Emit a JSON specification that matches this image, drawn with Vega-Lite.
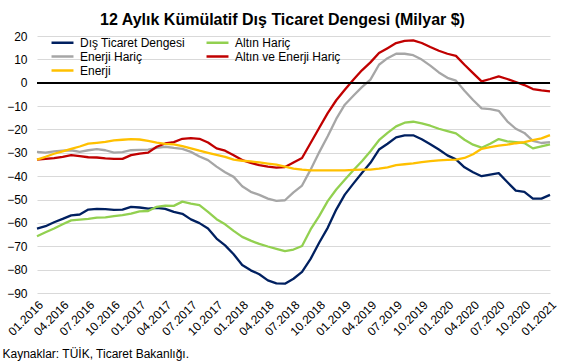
{
  "$schema": "https://vega.github.io/schema/vega-lite/v6.json",
  "width": 513,
  "height": 257,
  "autosize": {"type": "none"},
  "padding": {"left": 37, "top": 36, "right": 24, "bottom": 69},
  "background": "white",
  "title": {
    "text": "12 Aylık Kümülatif Dış Ticaret Dengesi (Milyar $)",
    "font": "Liberation Sans",
    "fontSize": 16,
    "fontWeight": "bold",
    "color": "#000000",
    "anchor": "middle",
    "dx": -11,
    "offset": 2
  },
  "config": {
    "view": {"stroke": null},
    "font": "Liberation Sans",
    "axisY": {"labelOverlap": false},
    "axisX": {"labelOverlap": false}
  },
  "data": {
    "values": [
      {"ay": "01.2016", "Dış Ticaret Dengesi": -62.4, "Altın Hariç": -65.7, "Enerji Hariç": -29.6, "Altın ve Enerji Hariç": -32.9, "Enerji": -32.9},
      {"ay": "02.2016", "Dış Ticaret Dengesi": -61.4, "Altın Hariç": -64.0, "Enerji Hariç": -29.9, "Altın ve Enerji Hariç": -32.6, "Enerji": -31.7},
      {"ay": "03.2016", "Dış Ticaret Dengesi": -59.7, "Altın Hariç": -62.4, "Enerji Hariç": -29.4, "Altın ve Enerji Hariç": -32.3, "Enerji": -30.4},
      {"ay": "04.2016", "Dış Ticaret Dengesi": -58.3, "Altın Hariç": -60.6, "Enerji Hariç": -29.1, "Altın ve Enerji Hariç": -31.7, "Enerji": -29.4},
      {"ay": "05.2016", "Dış Ticaret Dengesi": -56.8, "Altın Hariç": -58.9, "Enerji Hariç": -28.9, "Altın ve Enerji Hariç": -31.0, "Enerji": -28.3},
      {"ay": "06.2016", "Dış Ticaret Dengesi": -56.4, "Altın Hariç": -58.6, "Enerji Hariç": -29.6, "Altın ve Enerji Hariç": -31.4, "Enerji": -27.3},
      {"ay": "07.2016", "Dış Ticaret Dengesi": -54.3, "Altın Hariç": -58.3, "Enerji Hariç": -28.9, "Altın ve Enerji Hariç": -31.9, "Enerji": -26.1},
      {"ay": "08.2016", "Dış Ticaret Dengesi": -54.0, "Altın Hariç": -57.7, "Enerji Hariç": -28.4, "Altın ve Enerji Hariç": -32.0, "Enerji": -25.7},
      {"ay": "09.2016", "Dış Ticaret Dengesi": -54.1, "Altın Hariç": -57.6, "Enerji Hariç": -28.9, "Altın ve Enerji Hariç": -32.4, "Enerji": -25.3},
      {"ay": "10.2016", "Dış Ticaret Dengesi": -54.4, "Altın Hariç": -57.1, "Enerji Hariç": -29.9, "Altın ve Enerji Hariç": -32.6, "Enerji": -24.7},
      {"ay": "11.2016", "Dış Ticaret Dengesi": -54.3, "Altın Hariç": -56.7, "Enerji Hariç": -29.7, "Altın ve Enerji Hariç": -32.6, "Enerji": -24.4},
      {"ay": "12.2016", "Dış Ticaret Dengesi": -53.1, "Altın Hariç": -56.0, "Enerji Hariç": -28.9, "Altın ve Enerji Hariç": -31.0, "Enerji": -24.1},
      {"ay": "01.2017", "Dış Ticaret Dengesi": -53.4, "Altın Hariç": -55.1, "Enerji Hariç": -28.7, "Altın ve Enerji Hariç": -30.3, "Enerji": -24.3},
      {"ay": "02.2017", "Dış Ticaret Dengesi": -53.9, "Altın Hariç": -54.9, "Enerji Hariç": -28.6, "Altın ve Enerji Hariç": -29.9, "Enerji": -24.9},
      {"ay": "03.2017", "Dış Ticaret Dengesi": -53.6, "Altın Hariç": -53.1, "Enerji Hariç": -27.9, "Altın ve Enerji Hariç": -27.4, "Enerji": -25.6},
      {"ay": "04.2017", "Dış Ticaret Dengesi": -54.0, "Altın Hariç": -52.6, "Enerji Hariç": -27.4, "Altın ve Enerji Hariç": -26.0, "Enerji": -26.2},
      {"ay": "05.2017", "Dış Ticaret Dengesi": -55.3, "Altın Hariç": -52.7, "Enerji Hariç": -27.9, "Altın ve Enerji Hariç": -25.4, "Enerji": -26.4},
      {"ay": "06.2017", "Dış Ticaret Dengesi": -56.1, "Altın Hariç": -50.9, "Enerji Hariç": -28.3, "Altın ve Enerji Hariç": -24.0, "Enerji": -27.1},
      {"ay": "07.2017", "Dış Ticaret Dengesi": -58.5, "Altın Hariç": -51.7, "Enerji Hariç": -29.6, "Altın ve Enerji Hariç": -23.7, "Enerji": -28.1},
      {"ay": "08.2017", "Dış Ticaret Dengesi": -60.1, "Altın Hariç": -52.4, "Enerji Hariç": -31.6, "Altın ve Enerji Hariç": -24.0, "Enerji": -29.1},
      {"ay": "09.2017", "Dış Ticaret Dengesi": -62.4, "Altın Hariç": -55.3, "Enerji Hariç": -33.1, "Altın ve Enerji Hariç": -25.6, "Enerji": -30.0},
      {"ay": "10.2017", "Dış Ticaret Dengesi": -66.7, "Altın Hariç": -58.4, "Enerji Hariç": -35.9, "Altın ve Enerji Hariç": -28.1, "Enerji": -30.9},
      {"ay": "11.2017", "Dış Ticaret Dengesi": -69.6, "Altın Hariç": -60.6, "Enerji Hariç": -38.3, "Altın ve Enerji Hariç": -29.1, "Enerji": -31.7},
      {"ay": "12.2017", "Dış Ticaret Dengesi": -73.4, "Altın Hariç": -63.4, "Enerji Hariç": -40.3, "Altın ve Enerji Hariç": -31.0, "Enerji": -32.9},
      {"ay": "01.2018", "Dış Ticaret Dengesi": -78.0, "Altın Hariç": -66.0, "Enerji Hariç": -44.3, "Altın ve Enerji Hariç": -33.1, "Enerji": -33.4},
      {"ay": "02.2018", "Dış Ticaret Dengesi": -80.3, "Altın Hariç": -67.6, "Enerji Hariç": -46.7, "Altın ve Enerji Hariç": -34.3, "Enerji": -33.7},
      {"ay": "03.2018", "Dış Ticaret Dengesi": -82.0, "Altın Hariç": -69.0, "Enerji Hariç": -48.0, "Altın ve Enerji Hariç": -35.3, "Enerji": -34.1},
      {"ay": "04.2018", "Dış Ticaret Dengesi": -84.6, "Altın Hariç": -70.1, "Enerji Hariç": -49.6, "Altın ve Enerji Hariç": -35.9, "Enerji": -34.6},
      {"ay": "05.2018", "Dış Ticaret Dengesi": -85.9, "Altın Hariç": -71.1, "Enerji Hariç": -50.6, "Altın ve Enerji Hariç": -36.3, "Enerji": -35.1},
      {"ay": "06.2018", "Dış Ticaret Dengesi": -86.0, "Altın Hariç": -72.1, "Enerji Hariç": -50.3, "Altın ve Enerji Hariç": -36.1, "Enerji": -35.9},
      {"ay": "07.2018", "Dış Ticaret Dengesi": -83.9, "Altın Hariç": -71.4, "Enerji Hariç": -46.9, "Altın ve Enerji Hariç": -34.1, "Enerji": -36.8},
      {"ay": "08.2018", "Dış Ticaret Dengesi": -81.0, "Altın Hariç": -69.9, "Enerji Hariç": -44.0, "Altın ve Enerji Hariç": -32.2, "Enerji": -37.2},
      {"ay": "09.2018", "Dış Ticaret Dengesi": -75.4, "Altın Hariç": -62.8, "Enerji Hariç": -37.2, "Altın ve Enerji Hariç": -25.8, "Enerji": -37.5},
      {"ay": "10.2018", "Dış Ticaret Dengesi": -68.5, "Altın Hariç": -57.1, "Enerji Hariç": -29.8, "Altın ve Enerji Hariç": -19.4, "Enerji": -37.5},
      {"ay": "11.2018", "Dış Ticaret Dengesi": -62.1, "Altın Hariç": -50.7, "Enerji Hariç": -22.9, "Altın ve Enerji Hariç": -13.0, "Enerji": -37.5},
      {"ay": "12.2018", "Dış Ticaret Dengesi": -54.3, "Altın Hariç": -45.7, "Enerji Hariç": -15.5, "Altın ve Enerji Hariç": -7.5, "Enerji": -37.5},
      {"ay": "01.2019", "Dış Ticaret Dengesi": -47.9, "Altın Hariç": -41.5, "Enerji Hariç": -9.4, "Altın ve Enerji Hariç": -3.0, "Enerji": -37.5},
      {"ay": "02.2019", "Dış Ticaret Dengesi": -43.2, "Altın Hariç": -37.5, "Enerji Hariç": -5.6, "Altın ve Enerji Hariç": 1.3, "Enerji": -37.3},
      {"ay": "03.2019", "Dış Ticaret Dengesi": -38.6, "Altın Hariç": -33.6, "Enerji Hariç": -1.9, "Altın ve Enerji Hariç": 5.3, "Enerji": -37.2},
      {"ay": "04.2019", "Dış Ticaret Dengesi": -34.3, "Altın Hariç": -29.3, "Enerji Hariç": 1.3, "Altın ve Enerji Hariç": 8.7, "Enerji": -37.2},
      {"ay": "05.2019", "Dış Ticaret Dengesi": -28.6, "Altın Hariç": -24.6, "Enerji Hariç": 7.7, "Altın ve Enerji Hariç": 12.7, "Enerji": -36.8},
      {"ay": "06.2019", "Dış Ticaret Dengesi": -26.1, "Altın Hariç": -21.5, "Enerji Hariç": 10.5, "Altın ve Enerji Hariç": 14.8, "Enerji": -36.2},
      {"ay": "07.2019", "Dış Ticaret Dengesi": -23.4, "Altın Hariç": -18.7, "Enerji Hariç": 12.4, "Altın ve Enerji Hariç": 17.0, "Enerji": -35.3},
      {"ay": "08.2019", "Dış Ticaret Dengesi": -22.5, "Altın Hariç": -17.1, "Enerji Hariç": 12.4, "Altın ve Enerji Hariç": 17.9, "Enerji": -34.9},
      {"ay": "09.2019", "Dış Ticaret Dengesi": -22.5, "Altın Hariç": -16.7, "Enerji Hariç": 11.8, "Altın ve Enerji Hariç": 18.1, "Enerji": -34.5},
      {"ay": "10.2019", "Dış Ticaret Dengesi": -24.2, "Altın Hariç": -17.4, "Enerji Hariç": 9.9, "Altın ve Enerji Hariç": 17.0, "Enerji": -34.0},
      {"ay": "11.2019", "Dış Ticaret Dengesi": -26.3, "Altın Hariç": -18.4, "Enerji Hariç": 7.3, "Altın ve Enerji Hariç": 15.3, "Enerji": -33.6},
      {"ay": "12.2019", "Dış Ticaret Dengesi": -28.6, "Altın Hariç": -19.7, "Enerji Hariç": 4.4, "Altın ve Enerji Hariç": 13.7, "Enerji": -33.2},
      {"ay": "01.2020", "Dış Ticaret Dengesi": -31.1, "Altın Hariç": -20.7, "Enerji Hariç": 2.1, "Altın ve Enerji Hariç": 12.4, "Enerji": -33.0},
      {"ay": "02.2020", "Dış Ticaret Dengesi": -32.8, "Altın Hariç": -21.7, "Enerji Hariç": 0.9, "Altın ve Enerji Hariç": 11.5, "Enerji": -32.9},
      {"ay": "03.2020", "Dış Ticaret Dengesi": -36.2, "Altın Hariç": -24.4, "Enerji Hariç": -3.4, "Altın ve Enerji Hariç": 7.7, "Enerji": -32.2},
      {"ay": "04.2020", "Dış Ticaret Dengesi": -38.3, "Altın Hariç": -26.5, "Enerji Hariç": -7.4, "Altın ve Enerji Hariç": 4.1, "Enerji": -30.6},
      {"ay": "05.2020", "Dış Ticaret Dengesi": -40.0, "Altın Hariç": -27.8, "Enerji Hariç": -11.0, "Altın ve Enerji Hariç": 0.6, "Enerji": -28.3},
      {"ay": "06.2020", "Dış Ticaret Dengesi": -39.3, "Altın Hariç": -26.1, "Enerji Hariç": -11.3, "Altın ve Enerji Hariç": 1.6, "Enerji": -27.6},
      {"ay": "07.2020", "Dış Ticaret Dengesi": -38.7, "Altın Hariç": -24.1, "Enerji Hariç": -12.0, "Altın ve Enerji Hariç": 2.7, "Enerji": -26.9},
      {"ay": "08.2020", "Dış Ticaret Dengesi": -42.5, "Altın Hariç": -25.1, "Enerji Hariç": -16.5, "Altın ve Enerji Hariç": 1.6, "Enerji": -26.5},
      {"ay": "09.2020", "Dış Ticaret Dengesi": -46.2, "Altın Hariç": -25.4, "Enerji Hariç": -19.7, "Altın ve Enerji Hariç": 0.3, "Enerji": -25.9},
      {"ay": "10.2020", "Dış Ticaret Dengesi": -46.7, "Altın Hariç": -25.8, "Enerji Hariç": -21.5, "Altın ve Enerji Hariç": -1.0, "Enerji": -25.4},
      {"ay": "11.2020", "Dış Ticaret Dengesi": -49.6, "Altın Hariç": -28.1, "Enerji Hariç": -24.9, "Altın ve Enerji Hariç": -2.7, "Enerji": -24.6},
      {"ay": "12.2020", "Dış Ticaret Dengesi": -49.6, "Altın Hariç": -27.2, "Enerji Hariç": -25.8, "Altın ve Enerji Hariç": -3.3, "Enerji": -23.8},
      {"ay": "01.2021", "Dış Ticaret Dengesi": -48.0, "Altın Hariç": -26.4, "Enerji Hariç": -25.4, "Altın ve Enerji Hariç": -3.7, "Enerji": -22.4}
    ]
  },
  "transform": [
    {"fold": ["Dış Ticaret Dengesi", "Altın Hariç", "Enerji Hariç", "Altın ve Enerji Hariç", "Enerji"], "as": ["seri", "deger"]}
  ],
  "encoding": {
    "y": {
      "field": "deger",
      "type": "quantitative",
      "scale": {"domain": [-90, 20], "nice": false, "zero": false},
      "axis": {
        "values": [-90, -80, -70, -60, -50, -40, -30, -20, -10, 0, 10, 20],
        "title": null,
        "domain": false,
        "ticks": false,
        "grid": true,
        "gridColor": "#d9d9d9",
        "gridWidth": 1,
        "labelOverlap": false,
        "labelFontSize": 12,
        "labelFont": "Liberation Sans",
        "labelColor": "#000000",
        "labelPadding": 10
      }
    }
  },
  "layer": [
    {
      "mark": {"type": "line", "strokeWidth": 2.3, "strokeJoin": "round"},
      "encoding": {
        "x": {
          "field": "ay",
          "type": "ordinal",
          "sort": null,
          "scale": {"type": "point", "padding": 0},
          "axis": {
            "values": ["01.2016", "04.2016", "07.2016", "10.2016", "01.2017", "04.2017", "07.2017", "10.2017", "01.2018", "04.2018", "07.2018", "10.2018", "01.2019", "04.2019", "07.2019", "10.2019", "01.2020", "04.2020", "07.2020", "10.2020", "01.2021"],
            "labelAngle": -45,
            "labelFontSize": 12,
            "labelFont": "Liberation Sans",
            "labelColor": "#000000",
            "labelPadding": 6,
            "labelOverlap": false,
            "ticks": false,
            "domain": false,
            "grid": false,
            "title": "Kaynaklar: TÜİK, Ticaret Bakanlığı.",
            "titleFont": "Liberation Sans",
            "titleFontSize": 12,
            "titleFontWeight": "normal",
            "titleColor": "#000000",
            "titleAnchor": "start",
            "titleAlign": "left",
            "titleBaseline": "middle",
            "titleX": -35,
            "titleY": 60
          }
        },
        "color": {
          "field": "seri",
          "type": "nominal",
          "scale": {
            "domain": ["Dış Ticaret Dengesi", "Altın Hariç", "Enerji Hariç", "Altın ve Enerji Hariç", "Enerji"],
            "range": ["#002060", "#92D050", "#A6A6A6", "#C00000", "#FFC000"]
          },
          "legend": {
            "orient": "none",
            "legendX": 18,
            "legendY": -1,
            "columns": 2,
            "direction": "horizontal",
            "title": null,
            "padding": 0,
            "symbolType": "M-1.83,0H1.83",
            "symbolSize": 144,
            "symbolStrokeWidth": 2.5,
            "labelFont": "Liberation Sans",
            "labelFontSize": 12,
            "labelColor": "#000000",
            "labelOffset": 10,
            "columnPadding": 16,
            "rowPadding": -1
          }
        }
      }
    },
    {
      "mark": {"type": "rule", "color": "#000000", "strokeWidth": 1},
      "encoding": {"y": {"datum": 0, "type": "quantitative"}}
    }
  ]
}
